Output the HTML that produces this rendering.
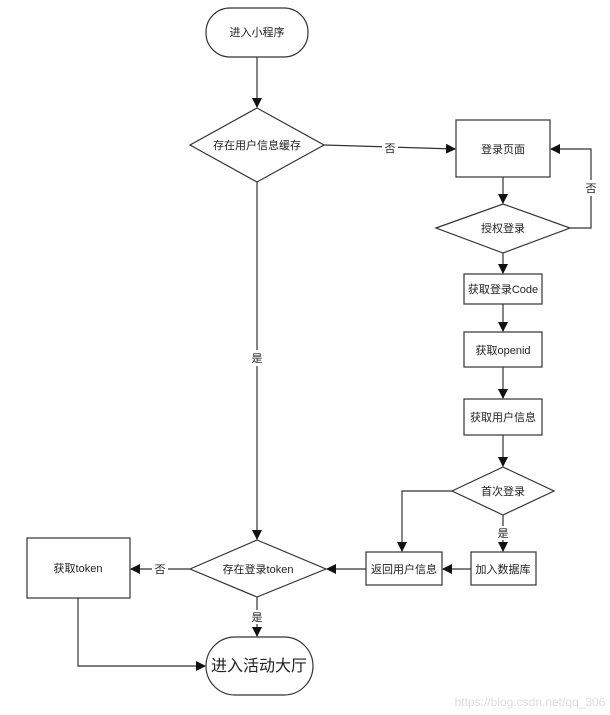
<!DOCTYPE html>
<html><head><meta charset="utf-8"><style>
html,body{margin:0;padding:0;background:#fff;}
svg text{font-family:"Liberation Sans","Noto Sans CJK SC",sans-serif;font-size:11px;fill:#222;}
</style></head><body>
<svg width="610" height="710" viewBox="0 0 610 710" xmlns="http://www.w3.org/2000/svg">
<defs><marker id="a" markerWidth="10" markerHeight="10" refX="9" refY="5" orient="auto" markerUnits="userSpaceOnUse"><path d="M0,0 L10,5 L0,10 z" fill="#111"/></marker></defs>
<g fill="#fff" stroke="#333" stroke-width="1.2">
<rect x="206" y="8" width="102" height="49" rx="24"/>
<polygon points="190,145 257,108 324,145 257,182"/>
<rect x="456" y="120" width="94" height="57"/>
<polygon points="436,228 503,204 570,228 503,253"/>
<rect x="464" y="274" width="78" height="30"/>
<rect x="464" y="332" width="78" height="35"/>
<rect x="464" y="399" width="78" height="36"/>
<polygon points="452,491 503,467 554,491 503,515"/>
<rect x="471" y="552" width="65" height="33"/>
<rect x="366" y="552" width="76" height="33"/>
<polygon points="190,569 257,540 326,569 257,597"/>
<rect x="27" y="538" width="103" height="60"/>
<rect x="206" y="637" width="107" height="58" rx="29"/>
</g>
<g fill="none" stroke="#333" stroke-width="1.2" marker-end="url(#a)">
<path d="M257,57 V107"/>
<path d="M324,145 L455,149"/>
<path d="M503,177 V203"/>
<path d="M570,228 H591 V149 H551"/>
<path d="M503,253 V273"/>
<path d="M503,304 V331"/>
<path d="M503,367 V398"/>
<path d="M503,435 V466"/>
<path d="M503,515 V551"/>
<path d="M452,491 H402 V551"/>
<path d="M471,569 H443"/>
<path d="M366,569 H327"/>
<path d="M257,182 V539"/>
<path d="M190,569 H131"/>
<path d="M257,597 V636"/>
<path d="M78,598 V666 H205"/>
</g>
<g text-anchor="middle">
<text x="257" y="36">进入小程序</text>
<text x="257" y="149">存在用户信息缓存</text>
<rect x="382" y="140" width="16" height="16" fill="#fff"/><text x="390" y="152">否</text>
<text x="503" y="153">登录页面</text>
<rect x="583" y="180" width="16" height="16" fill="#fff"/><text x="591" y="192">否</text>
<text x="503" y="232">授权登录</text>
<text x="503" y="293">获取登录Code</text>
<text x="503" y="354">获取openid</text>
<text x="503" y="421">获取用户信息</text>
<text x="503" y="495">首次登录</text>
<rect x="495" y="526" width="16" height="14" fill="#fff"/><text x="503" y="537">是</text>
<rect x="249" y="350" width="16" height="16" fill="#fff"/><text x="257" y="362">是</text>
<text x="503" y="573">加入数据库</text>
<text x="404" y="573">返回用户信息</text>
<text x="258" y="573">存在登录token</text>
<rect x="152" y="562" width="16" height="14" fill="#fff"/><text x="160" y="573">否</text>
<text x="78" y="572">获取token</text>
<rect x="249" y="610" width="16" height="14" fill="#fff"/><text x="257" y="621">是</text>
<text x="259" y="671" style="font-size:16px">进入活动大厅</text>
<text x="530" y="706" style="font-size:12px;fill:#ddd">https://blog.csdn.net/qq_306</text>
</g>
</svg>
</body></html>
